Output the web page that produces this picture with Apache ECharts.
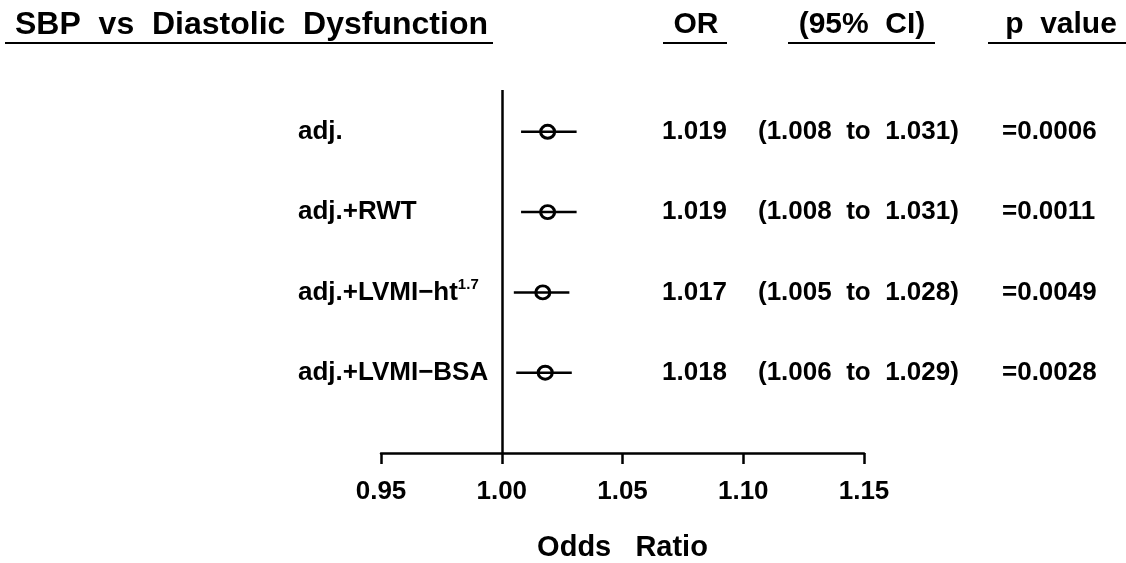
<!DOCTYPE html>
<html>
<head>
<meta charset="utf-8">
<script src="https://cdn.jsdelivr.net/npm/echarts@6/dist/echarts.min.js"></script>
<style>
  html, body { margin: 0; padding: 0; background: #fff; }
  #forest { width: 1126px; height: 563px; }
</style>
</head>
<body>
<div id="forest"></div>
<script>
// rows of the forest plot
const rowNames = ['adj.', 'adj.+RWT', 'adj.+LVMI\u2212ht', 'adj.+LVMI\u2212BSA'];
const rowSup = ['', '', '1.7', ''];
// odds ratio and 95% CI
const orValues = [1.019, 1.019, 1.017, 1.018];
const ciLow = [1.008, 1.008, 1.005, 1.006];
const ciHigh = [1.031, 1.031, 1.028, 1.029];
const pValues = ['=0.0006', '=0.0011', '=0.0049', '=0.0028'];
// x axis
const xMin = 0.95;
const xMax = 1.15;
const xStep = 0.05;

const FONT = '"Liberation Sans", Arial, sans-serif';
const rowPos = rowNames.map((n, i) => i + 1);

const chart = echarts.init(document.getElementById('forest'));

const option = {
  animation: false,
  backgroundColor: '#fff',
  grid: { left: 381, right: 262, top: 90, bottom: 110, outerBoundsMode: 'none', containLabel: false },
  xAxis: {
    type: 'value',
    min: xMin,
    max: xMax,
    interval: xStep,
    name: 'Odds   Ratio',
    nameLocation: 'middle',
    nameGap: 80,
    nameTextStyle: { fontFamily: FONT, fontWeight: 'bold', fontSize: 29, color: '#000' },
    axisLine: { lineStyle: { color: '#000', width: 2.5 } },
    axisTick: { length: 11, lineStyle: { color: '#000', width: 2.5 } },
    splitLine: { show: false },
    axisLabel: {
      margin: 26,
      fontFamily: FONT,
      fontWeight: 'bold',
      fontSize: 26,
      color: '#000',
      formatter: v => v.toFixed(2)
    }
  },
  yAxis: {
    type: 'value',
    inverse: true,
    min: 0.48,
    max: 5,
    axisLine: { show: false },
    axisTick: { show: false },
    splitLine: { show: false },
    axisLabel: {
      customValues: rowPos,
      margin: 83,
      align: 'left',
      formatter: v => {
        const i = Math.round(v) - 1;
        let s = '{n|' + rowNames[i] + '}';
        if (rowSup[i]) s += '{s|' + rowSup[i] + '}';
        return s;
      },
      rich: {
        n: { fontFamily: FONT, fontWeight: 'bold', fontSize: 26, color: '#000', lineHeight: 30 },
        s: { fontFamily: FONT, fontWeight: 'bold', fontSize: 15, color: '#000', lineHeight: 16, verticalAlign: 'top' }
      }
    }
  },
  series: [
    {
      // confidence interval whiskers
      type: 'custom',
      data: rowPos.map((y, i) => [ciLow[i], ciHigh[i], y]),
      renderItem: (params, api) => {
        const a = api.coord([api.value(0), api.value(2)]);
        const b = api.coord([api.value(1), api.value(2)]);
        return {
          type: 'line',
          shape: { x1: a[0], y1: a[1], x2: b[0], y2: b[1] },
          style: { stroke: '#000', lineWidth: 2.5 }
        };
      },
      z: 3
    },
    {
      type: 'scatter',
      data: rowPos.map((y, i) => [orValues[i], y]),
      symbol: 'circle',
      symbolSize: [14, 13],
      itemStyle: { color: 'rgba(0,0,0,0)', borderColor: '#000', borderWidth: 3, opacity: 1 },
      z: 4,
      markLine: {
        silent: true,
        symbol: 'none',
        label: { show: false },
        lineStyle: { color: '#000', width: 2.5, type: 'solid', opacity: 1 },
        data: [{ xAxis: 1.0 }]
      }
    }
  ]
};

chart.setOption(option);

// title, column headers and per-row text columns
const titleFont = 'bold 32px ' + FONT;
const headFont = 'bold 30px ' + FONT;
const cellFont = 'bold 26px ' + FONT;
const graphic = [
  { type: 'text', x: 15, y: 25, style: { text: 'SBP  vs  Diastolic  Dysfunction', font: titleFont, fill: '#000', align: 'left', verticalAlign: 'middle' } },
  { type: 'line', shape: { x1: 5, y1: 43, x2: 493, y2: 43 }, style: { stroke: '#000', lineWidth: 2 } },
  { type: 'text', x: 696, y: 25, style: { text: 'OR', font: headFont, fill: '#000', align: 'center', verticalAlign: 'middle' } },
  { type: 'line', shape: { x1: 663, y1: 43, x2: 727, y2: 43 }, style: { stroke: '#000', lineWidth: 2 } },
  { type: 'text', x: 862, y: 25, style: { text: '(95%  CI)', font: headFont, fill: '#000', align: 'center', verticalAlign: 'middle' } },
  { type: 'line', shape: { x1: 788, y1: 43, x2: 935, y2: 43 }, style: { stroke: '#000', lineWidth: 2 } },
  { type: 'text', x: 1061, y: 25, style: { text: 'p  value', font: headFont, fill: '#000', align: 'center', verticalAlign: 'middle' } },
  { type: 'line', shape: { x1: 988, y1: 43, x2: 1126, y2: 43 }, style: { stroke: '#000', lineWidth: 2 } }
];

rowPos.forEach((r, i) => {
  const y = chart.convertToPixel({ yAxisIndex: 0 }, r);
  graphic.push(
    { type: 'text', x: 662, y: y, style: { text: orValues[i].toFixed(3), font: cellFont, fill: '#000', align: 'left', verticalAlign: 'middle' } },
    { type: 'text', x: 758, y: y, style: { text: '(' + ciLow[i].toFixed(3) + '  to  ' + ciHigh[i].toFixed(3) + ')', font: cellFont, fill: '#000', align: 'left', verticalAlign: 'middle' } },
    { type: 'text', x: 1002, y: y, style: { text: pValues[i], font: cellFont, fill: '#000', align: 'left', verticalAlign: 'middle' } }
  );
});

chart.setOption({ graphic: graphic });
</script>
</body>
</html>
